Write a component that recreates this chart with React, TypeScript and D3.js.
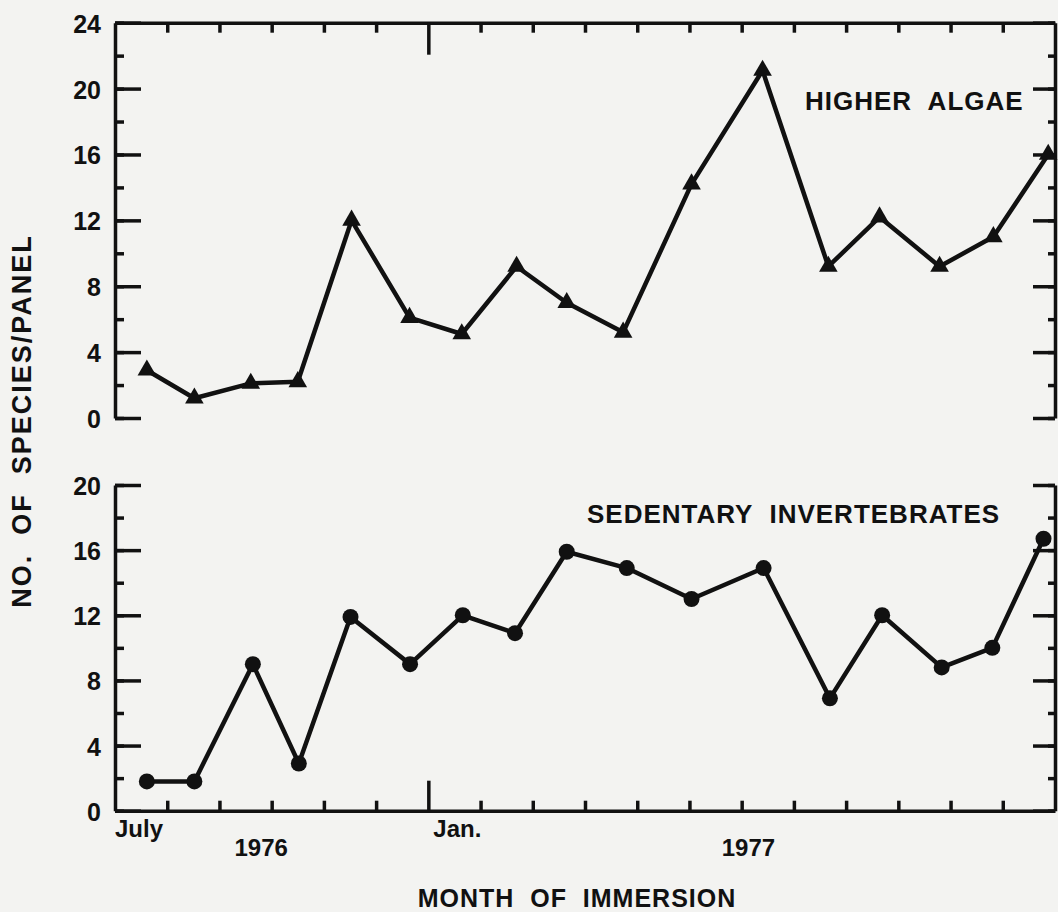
import React, { useRef, useEffect } from "react";
import * as d3 from "d3";

// sampling dates, in months after 1 July 1976
const algaeMonths = [0.61, 1.52, 2.6, 3.5, 4.53, 5.64, 6.64, 7.69, 8.65, 9.73, 11.04, 12.4, 13.66, 14.64, 15.79, 16.82, 17.87];
const algaeCounts = [2.9, 1.2, 2.1, 2.2, 12, 6.1, 5.1, 9.2, 7, 5.2, 14.2, 21.1, 9.2, 12.2, 9.2, 11, 16];
const invertMonths = [0.61, 1.52, 2.64, 3.52, 4.51, 5.65, 6.66, 7.66, 8.65, 9.8, 11.04, 12.42, 13.69, 14.69, 15.83, 16.8, 17.78];
const invertCounts = [1.8, 1.8, 9, 2.9, 11.9, 9, 12, 10.9, 15.9, 14.9, 13, 14.9, 6.9, 12, 8.8, 10, 16.7];

const algaeTicks = [0, 4, 8, 12, 16, 20, 24];
const invertTicks = [0, 4, 8, 12, 16, 20];
const monthLabels = ["July", "Jan."];
const monthLabelAt = [0, 6];
const yearLabels = ["1976", "1977"];
const yearLabelAt = [2.8, 12.13];

const INK = "#111";
const FONT = "'Liberation Sans', Arial, Helvetica, sans-serif";

const Chart = () => {
  const ref = useRef<SVGSVGElement>(null);

  const draw = (elt: SVGSVGElement) => {
    const width = 1058;
    const height = 912;
    const left = 115;
    const right = 1055;

    const svg = d3.select(elt);
    svg.selectAll("*").remove();
    svg.attr("width", width).attr("height", height);

    svg.append("rect").attr("width", width).attr("height", height).attr("fill", "#f3f3f1");

    const x = d3.scaleLinear().domain([0, 18]).range([left, right]);

    const styleAxis = (g: any, w = 3.5) => {
      g.selectAll("line").attr("stroke", INK).attr("stroke-width", w);
      g.selectAll("path").attr("stroke", INK).attr("stroke-width", w);
      g.attr("font-family", FONT).attr("font-size", 25).attr("font-weight", "bold");
      g.selectAll("text").attr("fill", INK);
    };

    const panel = (
      yBottom: number,
      yTop: number,
      ticks: number[],
      months: number[],
      counts: number[],
      marker: "triangle" | "circle",
      title: string,
      titleX: number,
      titleY: number,
      border: "top" | "bottom"
    ) => {
      const max = d3.max(ticks) as number;
      const y = d3.scaleLinear().domain([0, max]).range([yBottom, yTop]);
      const g = svg.append("g");

      // left axis : minor ticks then labelled majors
      const lMinor = g.append("g").attr("transform", `translate(${left},0)`)
        .call(d3.axisLeft(y).tickValues(d3.range(0, max + 1, 2)).tickSize(-9).tickSizeOuter(0).tickFormat(() => ""));
      styleAxis(lMinor);
      const lMajor = g.append("g").attr("transform", `translate(${left},0)`)
        .call(d3.axisLeft(y).tickValues(ticks).tickSize(-26).tickSizeOuter(0).tickPadding(14).tickFormat(d3.format("d")));
      lMajor.select(".domain").remove();
      styleAxis(lMajor);
      lMajor.selectAll("text").attr("dy", "0.38em");

      // right axis
      const rMinor = g.append("g").attr("transform", `translate(${right},0)`)
        .call(d3.axisRight(y).tickValues(d3.range(0, max + 1, 2)).tickSize(-7).tickSizeOuter(0).tickFormat(() => ""));
      styleAxis(rMinor);
      const rMajor = g.append("g").attr("transform", `translate(${right},0)`)
        .call(d3.axisRight(y).tickValues(ticks).tickSize(-22).tickSizeOuter(0).tickFormat(() => ""));
      rMajor.select(".domain").remove();
      styleAxis(rMajor);

      // month axis along the top or the bottom of the panel
      const months18 = d3.range(1, 18);
      if (border === "top") {
        const ax = g.append("g").attr("transform", `translate(0,${y(max)})`)
          .call(d3.axisTop(x).tickValues(months18).tickSize(-10).tickSizeOuter(0).tickFormat(() => ""));
        styleAxis(ax);
        ax.selectAll(".tick").filter((d: any) => d === 6).select("line").attr("y2", 32);
      } else {
        const ax = g.append("g").attr("transform", `translate(0,${y(0)})`)
          .call(d3.axisBottom(x).tickValues(months18).tickSize(-10).tickSizeOuter(0).tickFormat(() => ""));
        styleAxis(ax);
        ax.selectAll(".tick").filter((d: any) => d === 6).select("line").attr("y2", -30);
      }

      const line = d3.line<number>()
        .x((d, i) => x(months[i]))
        .y((d) => y(d));

      g.append("path")
        .datum(counts)
        .attr("d", line)
        .attr("fill", "none")
        .attr("stroke", INK)
        .attr("stroke-width", 4.5)
        .attr("stroke-linejoin", "round");

      if (marker === "triangle") {
        g.selectAll("path.mark")
          .data(counts)
          .join("path")
          .attr("class", "mark")
          .attr("d", d3.symbol().type(d3.symbolTriangle).size(150))
          .attr("transform", (d, i) => `translate(${x(months[i])},${y(d)})`)
          .attr("fill", INK);
      } else {
        g.selectAll("circle.mark")
          .data(counts)
          .join("circle")
          .attr("class", "mark")
          .attr("cx", (d, i) => x(months[i]))
          .attr("cy", (d) => y(d))
          .attr("r", 8)
          .attr("fill", INK);
      }

      g.append("text")
        .attr("x", titleX)
        .attr("y", titleY)
        .attr("font-family", FONT)
        .attr("font-size", 26)
        .attr("font-weight", "bold")
        .attr("letter-spacing", 1)
        .style("white-space", "pre")
        .attr("fill", INK)
        .text(title);

      return y;
    };

    panel(418, 22.7, algaeTicks, algaeMonths, algaeCounts, "triangle", "HIGHER  ALGAE", 805, 110, "top");
    const yb = panel(810.7, 485, invertTicks, invertMonths, invertCounts, "circle", "SEDENTARY  INVERTEBRATES", 587, 523, "bottom");

    const base = yb(0);
    svg.append("g")
      .selectAll("text")
      .data(monthLabels)
      .join("text")
      .attr("x", (d, i) => x(monthLabelAt[i]) + (i === 0 ? 0 : 5))
      .attr("y", base + 26)
      .attr("font-family", FONT)
      .attr("font-size", 24)
      .attr("font-weight", "bold")
      .attr("fill", INK)
      .text((d) => d);

    svg.append("g")
      .selectAll("text")
      .data(yearLabels)
      .join("text")
      .attr("x", (d, i) => x(yearLabelAt[i]))
      .attr("y", base + 45)
      .attr("text-anchor", "middle")
      .attr("font-family", FONT)
      .attr("font-size", 24)
      .attr("font-weight", "bold")
      .attr("fill", INK)
      .text((d) => d);

    svg.append("text")
      .attr("x", 577)
      .attr("y", 907)
      .attr("text-anchor", "middle")
      .attr("font-family", FONT)
      .attr("font-size", 25)
      .attr("font-weight", "bold")
      .attr("letter-spacing", 1)
      .style("white-space", "pre")
      .attr("fill", INK)
      .text("MONTH  OF  IMMERSION");

    svg.append("text")
      .attr("transform", "translate(31,421) rotate(-90)")
      .attr("text-anchor", "middle")
      .attr("font-family", FONT)
      .attr("font-size", 27)
      .attr("font-weight", "bold")
      .attr("letter-spacing", 2)
      .style("white-space", "pre")
      .attr("fill", INK)
      .text("NO.  OF  SPECIES/PANEL");
  };

  useEffect(() => {
    if (ref.current) draw(ref.current);
  }, []);

  return <svg ref={ref} style={{ position: "absolute", left: 0, top: 0, display: "block" }} />;
};

export default function App() {
  return <Chart />;
}
